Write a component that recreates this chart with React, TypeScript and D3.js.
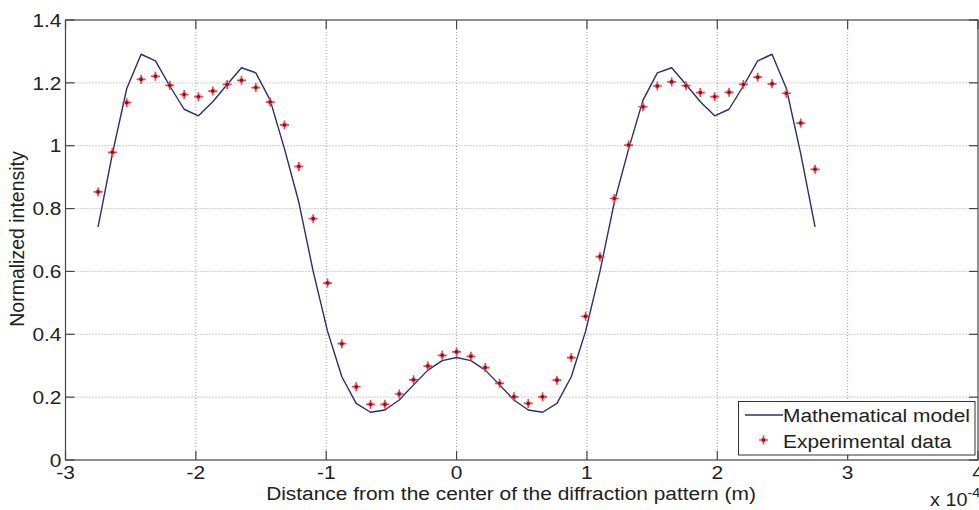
import React, { useRef, useEffect } from 'react';
import * as d3 from 'd3';

// distance from the centre, in units of 1e-4 m
const distance = [
  -2.75, -2.64, -2.53, -2.42, -2.31, -2.2, -2.09, -1.98, -1.87, -1.76, -1.65, -1.54, -1.43,
  -1.32, -1.21, -1.1, -0.99, -0.88, -0.77, -0.66, -0.55, -0.44, -0.33, -0.22, -0.11, 0,
  0.11, 0.22, 0.33, 0.44, 0.55, 0.66, 0.77, 0.88, 0.99, 1.1, 1.21, 1.32, 1.43, 1.54,
  1.65, 1.76, 1.87, 1.98, 2.09, 2.2, 2.31, 2.42, 2.53, 2.64, 2.75,
];

const modelIntensity = [
  0.742, 0.975, 1.182, 1.291, 1.27, 1.19, 1.116, 1.095, 1.14, 1.195, 1.248, 1.232, 1.145,
  0.99, 0.82, 0.6, 0.41, 0.265, 0.18, 0.152, 0.159, 0.191, 0.239, 0.286, 0.316, 0.326,
  0.316, 0.286, 0.239, 0.191, 0.159, 0.152, 0.18, 0.265, 0.41, 0.6, 0.82, 0.99, 1.145,
  1.232, 1.248, 1.195, 1.14, 1.095, 1.116, 1.19, 1.27, 1.291, 1.182, 0.975, 0.742,
];

const experimentalIntensity = [
  0.853, 0.979, 1.137, 1.211, 1.221, 1.192, 1.163, 1.156, 1.174, 1.195, 1.208, 1.185, 1.139,
  1.066, 0.934, 0.768, 0.563, 0.37, 0.233, 0.177, 0.177, 0.21, 0.255, 0.299, 0.333, 0.344,
  0.33, 0.294, 0.244, 0.201, 0.18, 0.201, 0.254, 0.326, 0.457, 0.647, 0.832, 1.002, 1.124,
  1.19, 1.203, 1.191, 1.169, 1.156, 1.17, 1.195, 1.218, 1.197, 1.167, 1.072, 0.925,
];

const xTicks = [-3, -2, -1, 0, 1, 2, 3, 4];
const yTicks = [0, 0.2, 0.4, 0.6, 0.8, 1, 1.2, 1.4];
const yTickLabels = ['0', '0.2', '0.4', '0.6', '0.8', '1', '1.2', '1.4'];
const seriesNames = ['Mathematical model', 'Experimental data'];

const width = 979;
const height = 510;
const FONT = 'Liberation Sans, Arial, sans-serif';
const STRETCH = 1.1; // the original text is a bit wide

const App = () => {
  const svgRef = useRef(null);

  useEffect(() => {
    if (!svgRef.current) return;

    const left = 65.5, right = 978, top = 20, bottom = 460;

    const xScale = d3.scaleLinear().domain([-3, 4]).range([left, right]);
    const yScale = d3.scaleLinear().domain([0, 1.4]).range([bottom, top]);

    const svg = d3.select(svgRef.current);
    svg.selectAll('*').remove();

    svg.append('rect')
      .attr('width', width)
      .attr('height', height)
      .attr('fill', '#fff');

    // text helper, stretched horizontally
    const label = (g, x, y, str, anchor = 'start', size = 19, dy = null) => {
      const t = g.append('text')
        .attr('transform', `translate(${x},${y}) scale(${STRETCH},1)`)
        .attr('text-anchor', anchor)
        .attr('font-family', FONT)
        .attr('font-size', size)
        .attr('fill', '#222')
        .text(str);
      if (dy) t.attr('dy', dy);
      return t;
    };

    // dotted grid
    const grid = svg.append('g')
      .attr('stroke', '#a0a0a0')
      .attr('stroke-width', 1)
      .attr('stroke-dasharray', '1,2');
    xTicks.filter(t => t > -3 && t < 4).forEach(t => {
      grid.append('line')
        .attr('x1', xScale(t)).attr('x2', xScale(t))
        .attr('y1', top).attr('y2', bottom);
    });
    yTicks.filter(t => t > 0 && t < 1.4).forEach(t => {
      grid.append('line')
        .attr('x1', left).attr('x2', right)
        .attr('y1', yScale(t)).attr('y2', yScale(t));
    });

    // box and inward ticks
    const axes = svg.append('g').attr('stroke', '#444').attr('stroke-width', 1.2);
    axes.append('rect')
      .attr('x', left).attr('y', top)
      .attr('width', right - left).attr('height', bottom - top)
      .attr('fill', 'none');
    const tickLen = 9;
    xTicks.forEach(t => {
      const x = xScale(t);
      axes.append('line').attr('x1', x).attr('x2', x).attr('y1', bottom).attr('y2', bottom - tickLen);
      axes.append('line').attr('x1', x).attr('x2', x).attr('y1', top).attr('y2', top + tickLen);
    });
    yTicks.forEach(t => {
      const y = yScale(t);
      axes.append('line').attr('x1', left).attr('x2', left + tickLen).attr('y1', y).attr('y2', y);
      axes.append('line').attr('x1', right).attr('x2', right - tickLen).attr('y1', y).attr('y2', y);
    });

    // tick labels
    const tickLabels = svg.append('g');
    xTicks.forEach(t => label(tickLabels, xScale(t), bottom + 19, String(t), 'middle'));
    yTicks.forEach((t, i) => label(tickLabels, left - 4, yScale(t), yTickLabels[i], 'end', 19, '0.35em'));

    // axis titles
    label(svg, 511, 500, 'Distance from the center of the diffraction pattern (m)', 'middle');

    svg.append('text')
      .attr('transform', 'rotate(-90)')
      .attr('x', -239)
      .attr('y', 24)
      .attr('text-anchor', 'middle')
      .attr('font-family', FONT)
      .attr('font-size', 19.5)
      .attr('fill', '#222')
      .text('Normalized intensity');

    const expo = label(svg, 930, 506, 'x 10', 'start', 18);
    expo.append('tspan')
      .attr('dy', -9)
      .attr('font-size', 13)
      .text('-4');

    // model curve
    const points = distance.map((d, i) => ({ x: d, model: modelIntensity[i], exp: experimentalIntensity[i] }));
    const line = d3.line()
      .x(d => xScale(d.x))
      .y(d => yScale(d.model));

    svg.append('path')
      .datum(points)
      .attr('fill', 'none')
      .attr('stroke', '#2c2c72')
      .attr('stroke-width', 1.4)
      .attr('stroke-linejoin', 'round')
      .attr('d', line);

    // experimental markers
    const drawMarker = (g, x, y) => {
      const m = g.append('g').attr('transform', `translate(${x},${y})`);
      m.append('path')
        .attr('d', 'M-4.5,0H4.5M0,-4.5V4.5')
        .attr('stroke', '#dc4a52')
        .attr('stroke-width', 1.7);
      m.append('path')
        .attr('d', 'M-2,-2L2,2M-2,2L2,-2')
        .attr('stroke', '#e57a80')
        .attr('stroke-width', 1.2);
      m.append('circle')
        .attr('r', 1.8)
        .attr('fill', '#8e1018');
    };
    const markers = svg.append('g');
    points.forEach(p => drawMarker(markers, xScale(p.x), yScale(p.exp)));

    // legend
    const legend = svg.append('g');
    legend.append('rect')
      .attr('x', 738.5)
      .attr('y', 401.5)
      .attr('width', 236.5)
      .attr('height', 53.5)
      .attr('fill', '#fff')
      .attr('stroke', '#333')
      .attr('stroke-width', 1);
    legend.append('line')
      .attr('x1', 745).attr('x2', 783)
      .attr('y1', 415).attr('y2', 415)
      .attr('stroke', '#2c2c72')
      .attr('stroke-width', 1.4);
    drawMarker(legend, 763.5, 440);
    seriesNames.forEach((name, i) => label(legend, 783, 415 + i * 26, name, 'start', 19, '0.35em'));
  }, []);

  return (
    <div style={{ position: 'absolute', left: 0, top: 0, width, height, overflow: 'hidden' }}>
      <svg ref={svgRef} width={width} height={height} />
    </div>
  );
};

export default App;
